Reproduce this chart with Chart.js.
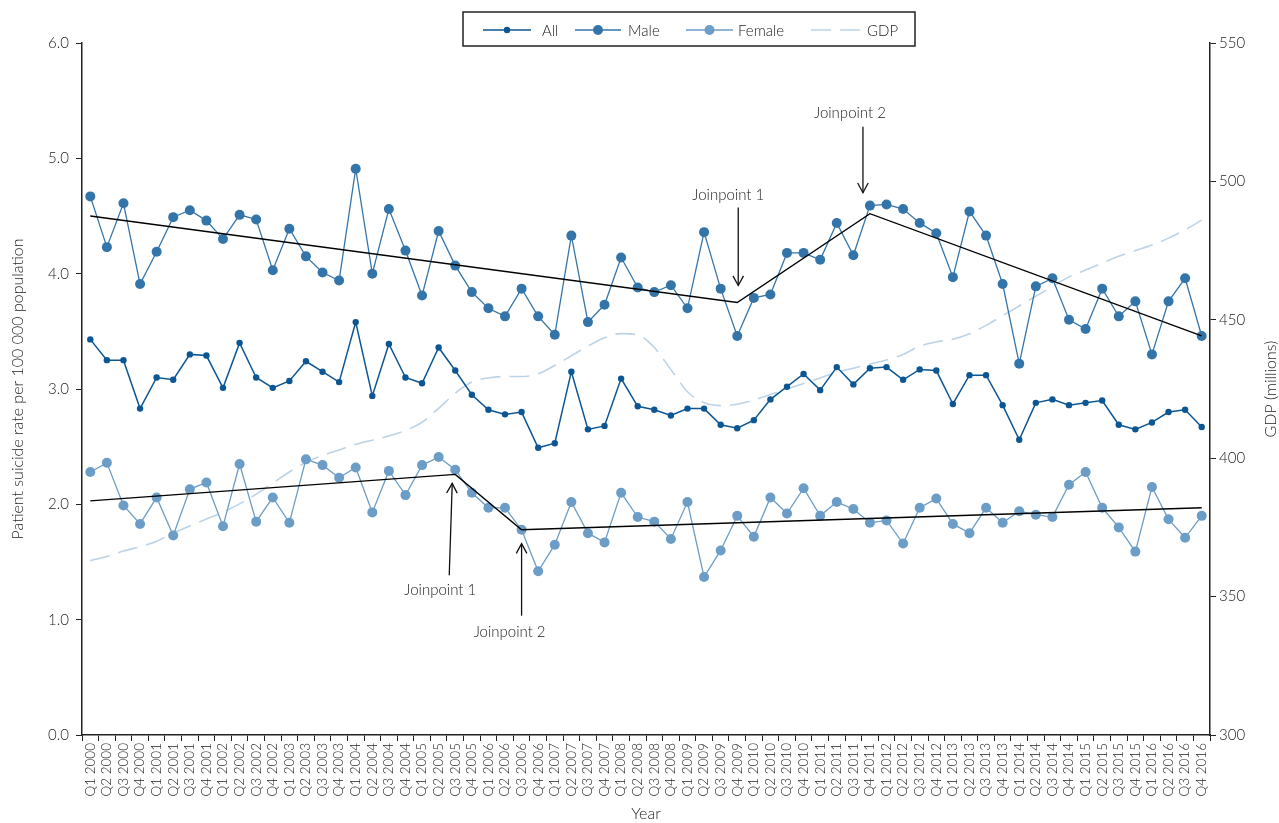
<!DOCTYPE html>
<html>
<head>
<meta charset="utf-8">
<title>Patient suicide rate and GDP, 2000–2016</title>
<script src="https://cdn.jsdelivr.net/npm/chart.js@4.4.1/dist/chart.umd.min.js"></script>
<style>
  html, body { margin: 0; padding: 0; background: #ffffff; }
  canvas { display: block; }
</style>
</head>
<body>
<canvas id="chart" width="1279" height="823"></canvas>
<script>
// ---- data ---------------------------------------------------------------
const years = [2000, 2001, 2002, 2003, 2004, 2005, 2006, 2007, 2008,
               2009, 2010, 2011, 2012, 2013, 2014, 2015, 2016];
const quarterNames = ['Q1', 'Q2', 'Q3', 'Q4'];
const quarters = years.flatMap(y => quarterNames.map(q => q + ' ' + y));

// suicide rate per 100 000 population, by quarter
const allRate = [
  3.43, 3.25, 3.25, 2.83, 3.10, 3.08, 3.30, 3.29, 3.01, 3.40,
  3.10, 3.01, 3.07, 3.24, 3.15, 3.06, 3.58, 2.94, 3.39, 3.10,
  3.05, 3.36, 3.16, 2.95, 2.82, 2.78, 2.80, 2.49, 2.53, 3.15,
  2.65, 2.68, 3.09, 2.85, 2.82, 2.77, 2.83, 2.83, 2.69, 2.66,
  2.73, 2.91, 3.02, 3.13, 2.99, 3.19, 3.04, 3.18, 3.19, 3.08,
  3.17, 3.16, 2.87, 3.12, 3.12, 2.86, 2.56, 2.88, 2.91, 2.86,
  2.88, 2.90, 2.69, 2.65, 2.71, 2.80, 2.82, 2.67
];
const maleRate = [
  4.67, 4.23, 4.61, 3.91, 4.19, 4.49, 4.55, 4.46, 4.30, 4.51,
  4.47, 4.03, 4.39, 4.15, 4.01, 3.94, 4.91, 4.00, 4.56, 4.20,
  3.81, 4.37, 4.07, 3.84, 3.70, 3.63, 3.87, 3.63, 3.47, 4.33,
  3.58, 3.73, 4.14, 3.88, 3.84, 3.90, 3.70, 4.36, 3.87, 3.46,
  3.79, 3.82, 4.18, 4.18, 4.12, 4.44, 4.16, 4.59, 4.60, 4.56,
  4.44, 4.35, 3.97, 4.54, 4.33, 3.91, 3.22, 3.89, 3.96, 3.60,
  3.52, 3.87, 3.63, 3.76, 3.30, 3.76, 3.96, 3.46
];
const femaleRate = [
  2.28, 2.36, 1.99, 1.83, 2.06, 1.73, 2.13, 2.19, 1.81, 2.35,
  1.85, 2.06, 1.84, 2.39, 2.34, 2.23, 2.32, 1.93, 2.29, 2.08,
  2.34, 2.41, 2.30, 2.10, 1.97, 1.97, 1.78, 1.42, 1.65, 2.02,
  1.75, 1.67, 2.10, 1.89, 1.85, 1.70, 2.02, 1.37, 1.60, 1.90,
  1.72, 2.06, 1.92, 2.14, 1.90, 2.02, 1.96, 1.84, 1.86, 1.66,
  1.97, 2.05, 1.83, 1.75, 1.97, 1.84, 1.94, 1.91, 1.89, 2.17,
  2.28, 1.97, 1.80, 1.59, 2.15, 1.87, 1.71, 1.90
];
// GDP, millions (right axis)
const gdp = [
  363.0, 364.5, 366.5, 368.0, 370.0, 373.0, 375.5, 378.0, 380.5, 383.5,
  387.0, 391.0, 395.0, 398.5, 401.0, 403.0, 405.0, 406.5, 408.0, 410.0,
  413.0, 418.0, 423.5, 427.5, 429.0, 429.5, 429.5, 430.5, 433.5, 437.0,
  440.5, 443.5, 445.0, 444.5, 440.0, 432.0, 424.0, 420.0, 419.0, 419.5,
  421.0, 423.0, 425.0, 427.0, 429.0, 431.0, 432.5, 434.0, 435.5, 437.5,
  440.5, 442.0, 443.0, 445.0, 448.0, 451.5, 455.0, 458.5, 462.0, 465.5,
  468.0, 470.5, 473.0, 475.0, 477.0, 479.5, 482.5, 486.0
];

// joinpoint regression fits: quarter index of each segment end and fitted rate
const maleJoinIdx = [0, 39, 47, 67];
const maleJoinVal = [4.50, 3.75, 4.52, 3.46];
const femaleJoinIdx = [0, 22, 26, 67];
const femaleJoinVal = [2.03, 2.26, 1.78, 1.97];

// axis ticks
const rateTicks = [0, 1, 2, 3, 4, 5, 6];
const gdpTicks = [300, 350, 400, 450, 500, 550];

// ---- helpers ------------------------------------------------------------
function sparseSeries(idx, val) {
  const out = quarters.map(() => null);
  idx.forEach((i, k) => { out[i] = val[k]; });
  return out;
}

const FONT = "Lato, 'Open Sans', 'Liberation Sans', sans-serif";
const TEXT = '#222222';
const AXIS = '#222222';
const C_ALL = '#0b5693';
const C_MALE = '#3475a9';
const C_FEMALE = '#6b9dc6';
const C_GDP = '#bcd3e7';

Chart.defaults.font.family = FONT;
Chart.defaults.font.weight = '300';
Chart.defaults.color = TEXT;

// joinpoint call-outs: which fitted series, which joint, and where the arrow sits
const callouts = [
  { text: 'Joinpoint 1', idx: maleJoinIdx, val: maleJoinVal, k: 1, dx: 1,  tip: -17, tail: -95, labelDx: -9,  labelDy: -107 },
  { text: 'Joinpoint 2', idx: maleJoinIdx, val: maleJoinVal, k: 2, dx: -7, tip: -21, tail: -87, labelDx: -20, labelDy: -101 },
  { text: 'Joinpoint 1', idx: femaleJoinIdx, val: femaleJoinVal, k: 1, dx: -3, tip: 9, tail: 101, tailDx: -3, labelDx: -15, labelDy: 116 },
  { text: 'Joinpoint 2', idx: femaleJoinIdx, val: femaleJoinVal, k: 2, dx: 0,  tip: 14, tail: 86, labelDx: -12, labelDy: 102 }
];

const legendItems = [
  { text: 'All',    color: C_ALL,    r: 3.2, x1: 483, x2: 531, tx: 542 },
  { text: 'Male',   color: C_MALE,   r: 5,   x1: 575, x2: 621, tx: 628 },
  { text: 'Female', color: C_FEMALE, r: 5,   x1: 686, x2: 733, tx: 738 },
  { text: 'GDP',    color: C_GDP,    r: 0,   x1: 811, x2: 861, tx: 867, dash: [20, 9] }
];

const overlay = {
  id: 'overlay',
  afterDraw(chart) {
    const ctx = chart.ctx;
    const xs = chart.scales.x, ys = chart.scales.y;
    ctx.save();

    // joinpoint arrows and labels
    ctx.strokeStyle = '#111';
    ctx.fillStyle = TEXT;
    ctx.lineWidth = 1.3;
    ctx.font = '300 15px ' + FONT;
    ctx.textAlign = 'center';
    ctx.textBaseline = 'middle';
    callouts.forEach(c => {
      const px = xs.getPixelForValue(c.idx[c.k]);
      const py = ys.getPixelForValue(c.val[c.k]);
      const tipX = px + c.dx, tipY = py + c.tip;
      const tailX = tipX + (c.tailDx || 0), tailY = py + c.tail;
      ctx.beginPath();
      ctx.moveTo(tailX, tailY);
      ctx.lineTo(tipX, tipY);
      ctx.stroke();
      const ang = Math.atan2(tipY - tailY, tipX - tailX);
      const L = 11, spread = 0.5;
      ctx.beginPath();
      ctx.moveTo(tipX - L * Math.cos(ang - spread), tipY - L * Math.sin(ang - spread));
      ctx.lineTo(tipX, tipY);
      ctx.lineTo(tipX - L * Math.cos(ang + spread), tipY - L * Math.sin(ang + spread));
      ctx.stroke();
      ctx.fillText(c.text, px + c.labelDx, py + c.labelDy);
    });

    // legend
    const boxL = 463, boxT = 12, boxR = 915, boxB = 46, my = 30;
    ctx.lineWidth = 1.5;
    ctx.strokeStyle = AXIS;
    ctx.strokeRect(boxL, boxT, boxR - boxL, boxB - boxT);
    ctx.textAlign = 'left';
    ctx.font = '300 15px ' + FONT;
    legendItems.forEach(it => {
      ctx.strokeStyle = it.color;
      ctx.lineWidth = it.dash ? 1.6 : 1.4;
      ctx.setLineDash(it.dash || []);
      ctx.beginPath();
      ctx.moveTo(it.x1, my);
      ctx.lineTo(it.x2, my);
      ctx.stroke();
      ctx.setLineDash([]);
      if (it.r) {
        ctx.fillStyle = it.color;
        ctx.beginPath();
        ctx.arc((it.x1 + it.x2) / 2, my, it.r, 0, Math.PI * 2);
        ctx.fill();
      }
      ctx.fillStyle = TEXT;
      ctx.fillText(it.text, it.tx, my + 1);
    });

    // right axis title, reading upwards
    ctx.translate(1271, (chart.chartArea.top + chart.chartArea.bottom) / 2);
    ctx.rotate(-Math.PI / 2);
    ctx.textAlign = 'center';
    ctx.font = '300 16px ' + FONT;
    ctx.fillText('GDP (millions)', 0, 0);
    ctx.restore();
  }
};

new Chart(document.getElementById('chart'), {
  type: 'line',
  data: {
    labels: quarters,
    datasets: [
      {
        label: 'All', data: allRate, yAxisID: 'y', order: 2,
        borderColor: C_ALL, backgroundColor: C_ALL, borderWidth: 1.5,
        pointRadius: 3.2, pointBorderWidth: 0, tension: 0
      },
      {
        label: 'Male', data: maleRate, yAxisID: 'y', order: 3,
        borderColor: C_MALE, backgroundColor: C_MALE, borderWidth: 1.3,
        pointRadius: 5, pointBorderWidth: 0, tension: 0
      },
      {
        label: 'Female', data: femaleRate, yAxisID: 'y', order: 3,
        borderColor: C_FEMALE, backgroundColor: C_FEMALE, borderWidth: 1.3,
        pointRadius: 5, pointBorderWidth: 0, tension: 0
      },
      {
        label: 'GDP', data: gdp, yAxisID: 'y2', order: 5,
        borderColor: C_GDP, borderWidth: 1.6, borderDash: [20, 9],
        pointRadius: 0, cubicInterpolationMode: 'monotone'
      },
      {
        label: 'Male trend', data: sparseSeries(maleJoinIdx, maleJoinVal), yAxisID: 'y', order: 0,
        borderColor: '#000', borderWidth: 1.4, pointRadius: 0, spanGaps: true, tension: 0
      },
      {
        label: 'Female trend', data: sparseSeries(femaleJoinIdx, femaleJoinVal), yAxisID: 'y', order: 0,
        borderColor: '#000', borderWidth: 1.4, pointRadius: 0, spanGaps: true, tension: 0
      }
    ]
  },
  options: {
    responsive: false,
    animation: false,
    devicePixelRatio: 1,
    layout: { padding: { top: 43, left: 0, right: 0, bottom: 0 } },
    plugins: { legend: { display: false }, tooltip: { enabled: false } },
    scales: {
      x: {
        type: 'category',
        offset: true,
        grid: { display: true, drawOnChartArea: false, offset: true, tickLength: 6, color: AXIS, lineWidth: 1 },
        border: { display: true, color: AXIS, width: 1.5 },
        ticks: { autoSkip: false, maxRotation: 90, minRotation: 90, padding: 2, font: { size: 13.5 }, color: TEXT },
        title: { display: true, text: 'Year', font: { size: 16 }, padding: { top: 0, bottom: 0 } },
        afterFit(s) { s.height = 88; }
      },
      y: {
        position: 'left',
        min: rateTicks[0], max: rateTicks[rateTicks.length - 1],
        afterBuildTicks(s) { s.ticks = rateTicks.map(v => ({ value: v })); },
        ticks: { callback: v => Number(v).toFixed(1), font: { size: 15 }, padding: 7, color: TEXT },
        grid: { display: true, drawOnChartArea: false, tickLength: 6, color: AXIS },
        border: { display: true, color: AXIS, width: 1.5 },
        title: { display: true, text: 'Patient suicide rate per 100 000 population', font: { size: 16 }, padding: { top: 8, bottom: 0 } },
        afterFit(s) { s.width = 82; }
      },
      y2: {
        position: 'right',
        min: gdpTicks[0], max: gdpTicks[gdpTicks.length - 1],
        afterBuildTicks(s) { s.ticks = gdpTicks.map(v => ({ value: v })); },
        ticks: { font: { size: 15 }, padding: 3, color: TEXT },
        grid: { display: true, drawOnChartArea: false, tickLength: 6, color: AXIS },
        border: { display: true, color: AXIS, width: 1.5 },
        afterFit(s) { s.width = 69; }
      }
    }
  },
  plugins: [overlay]
});
</script>
</body>
</html>
